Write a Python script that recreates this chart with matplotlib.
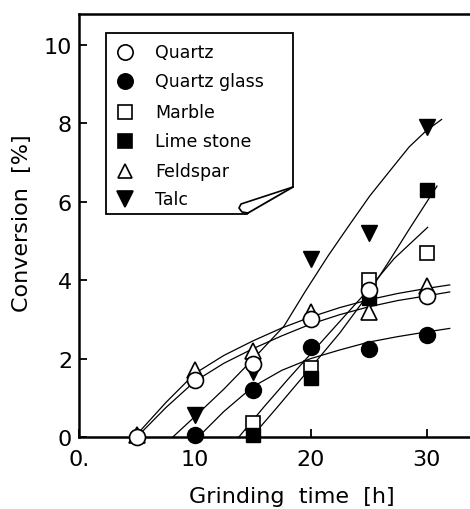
import numpy as np
import matplotlib.pyplot as plt

W, H = 470, 510

# measured points (grinding time h, conversion %)
t_quartz = [5, 10, 15, 20, 25, 30]
c_quartz = [0.0, 1.45, 1.85, 3.0, 3.75, 3.6]
t_qglass = [10, 15, 20, 25, 30]
c_qglass = [0.05, 1.2, 2.3, 2.25, 2.6]
t_marble = [15, 20, 25, 30]
c_marble = [0.35, 1.75, 4.0, 4.7]
t_lime = [15, 20, 25, 30]
c_lime = [0.05, 1.5, 3.55, 6.3]
t_feld = [5, 10, 15, 20, 25, 30]
c_feld = [0.05, 1.7, 2.2, 3.2, 3.2, 3.85]
t_talc = [10, 15, 20, 25, 30]
c_talc = [0.55, 1.65, 4.55, 5.2, 7.9]

# hand drawn trend curves
cx_quartz = [5.0, 7.5, 10, 12.5, 15, 17.5, 20, 22.5, 25, 27.5, 30, 32]
cy_quartz = [0, 0.75, 1.42, 1.88, 2.25, 2.58, 2.88, 3.12, 3.32, 3.48, 3.6, 3.7]
cx_feld = [4.8, 7.5, 10, 12.5, 15, 17.5, 20, 22.5, 25, 27.5, 30, 32]
cy_feld = [0, 0.88, 1.62, 2.08, 2.45, 2.78, 3.06, 3.3, 3.5, 3.66, 3.79, 3.88]
cx_qglass = [10.3, 12.5, 15, 17.5, 20, 22.5, 25, 27.5, 30, 32]
cy_qglass = [0, 0.65, 1.28, 1.7, 2.0, 2.22, 2.42, 2.56, 2.68, 2.77]
cx_marble = [13.8, 16, 18, 20, 22, 24.5, 27.2, 30.1]
cy_marble = [0, 0.78, 1.46, 2.12, 2.78, 3.6, 4.55, 5.35]
cx_lime = [14.9, 17, 19, 21, 22.5, 24.5, 26.8, 28.5, 30.9]
cy_lime = [0, 0.72, 1.42, 2.12, 2.65, 3.45, 4.5, 5.3, 6.4]
cx_talc = [8.1, 10, 12.5, 15, 17.7, 19.5, 21.5, 23.2, 25.1, 27, 28.5, 30, 31.3]
cy_talc = [0, 0.52, 1.22, 1.98, 2.83, 3.7, 4.62, 5.35, 6.15, 6.85, 7.4, 7.82, 8.1]

names = ["Quartz", "Quartz glass", "Marble", "Lime stone", "Feldspar", "Talc"]
yticks = [0, 2, 4, 6, 8, 10]
xticks = [0, 10, 20, 30]
xticklabels = ["0.", "10", "20", "30"]

plt.rcParams["font.family"] = "DejaVu Sans"

fig = plt.figure(figsize=(W / 100, H / 100), dpi=100)
ax = fig.add_axes([79 / W, 1 - 438 / H, 1 - 79 / W, (438 - 15) / H])

for cx, cy in [(cx_quartz, cy_quartz), (cx_feld, cy_feld), (cx_qglass, cy_qglass),
               (cx_marble, cy_marble), (cx_lime, cy_lime), (cx_talc, cy_talc)]:
    ax.plot(cx, cy, color="black", lw=0.9, zorder=2)

open_kw = dict(mfc="white", mec="black", mew=1.2, ls="none", zorder=3, clip_on=False)
fill_kw = dict(mfc="black", mec="black", mew=1.0, ls="none", zorder=3, clip_on=False)
ax.plot(t_marble, c_marble, "s", ms=10, **open_kw)
ax.plot(t_lime, c_lime, "s", ms=10, **fill_kw)
ax.plot(t_talc, c_talc, "v", ms=11, **fill_kw)
ax.plot(t_feld, c_feld, "^", ms=11, **open_kw)
ax.plot(t_qglass, c_qglass, "o", ms=11.5, **fill_kw)
ax.plot(t_quartz, c_quartz, "o", ms=11.5, **open_kw)

ax.set_xlim(0, 33.75)
ax.set_ylim(0, 10.79)
ax.set_xticks(xticks)
ax.set_xticklabels(xticklabels)
ax.set_yticks(yticks)
ax.tick_params(axis="both", direction="in", length=6, width=1.3, labelsize=16)
ax.tick_params(axis="x", pad=9)
ax.tick_params(axis="y", pad=5)
for s in ["left", "bottom", "top"]:
    ax.spines[s].set_linewidth(1.8)
ax.spines["right"].set_visible(False)

fig.text(292 / W, 1 - 497 / H, "Grinding  time  [h]", fontsize=16,
         ha="center", va="center")
fig.text(22 / W, 1 - 223 / H, "Conversion  [%]", fontsize=16,
         ha="center", va="center", rotation=90)


def px(x, y):
    return x / W, 1 - y / H


# legend box with a folded corner
box = [(106, 34), (293, 34), (293, 188), (248, 214), (247, 215), (106, 215), (106, 34)]
bx, by = zip(*[px(*p) for p in box])
fig.patches.append(plt.Polygon(list(zip(bx, by)), closed=True, fc="white", ec="black",
                               lw=1.3, transform=fig.transFigure, zorder=5))
fold = [(293, 188), (241, 205), (239, 209), (242, 213), (248, 214)]
fx, fy = zip(*[px(*p) for p in fold])
fig.add_artist(plt.Line2D(fx, fy, color="black", lw=1.2, transform=fig.transFigure, zorder=6))

markers = [("o", "white", 11), ("o", "black", 11), ("s", "white", 10),
           ("s", "black", 10), ("^", "white", 10), ("v", "black", 11)]
rows = [53, 82, 113, 142, 172, 200]
for (m, fc, ms), name, ry in zip(markers, names, rows):
    mx, my = px(125, ry)
    fig.add_artist(plt.Line2D([mx], [my], marker=m, ms=ms, mfc=fc, mec="black", mew=1.2,
                              ls="none", transform=fig.transFigure, zorder=7))
    tx, ty = px(155, ry)
    fig.text(tx, ty, name, fontsize=12.5, ha="left", va="center", zorder=7)

fig.savefig("out.png", dpi=100)
